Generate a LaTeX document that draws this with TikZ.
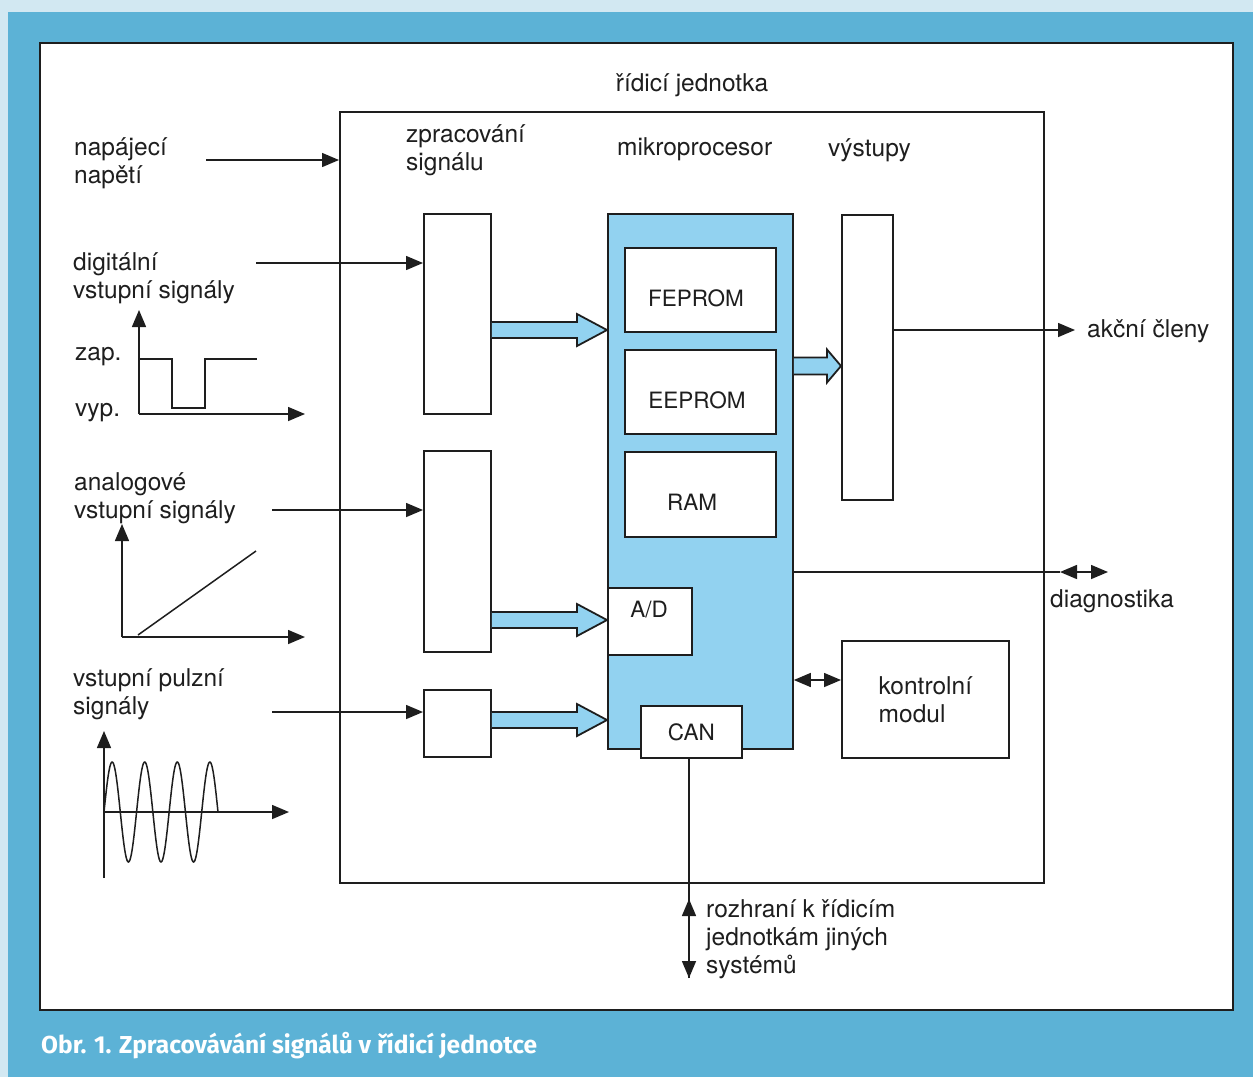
\documentclass[tikz,border=0pt]{standalone}
\usepackage{fontspec}
\setmainfont{TeX Gyre Heros}
\newfontfamily\capfont{Fira Sans}
\usetikzlibrary{arrows.meta,calc}
\definecolor{pale}{RGB}{210,232,242}
\definecolor{frameblue}{RGB}{92,178,214}
\definecolor{chip}{RGB}{146,210,240}
\definecolor{ink}{RGB}{30,30,30}
\newcommand\fatarrow[6]{%
  \draw[fat] let \p1=(#1), \p2=(#2) in
    (\x1,\y1+#3) -- (\x2-#5,\y1+#3) -- (\x2-#5,\y1+#4) -- (\x2,\y1)
    -- (\x2-#5,\y1-#4) -- (\x2-#5,\y1-#3) -- (\x1,\y1-#3);}
\begin{document}
\begin{tikzpicture}[x=1pt,y=-1pt,
  box/.style={draw=ink, line width=1.8pt, fill=white, inner sep=0, anchor=north west},
  lbl/.style={font=\fontsize{24.5}{28}\selectfont, inner sep=0, anchor=base west, align=left, text=ink},
  boxlbl/.style={font=\fontsize{22.5}{26}\selectfont, text=ink, inner sep=0},
  ln/.style={line width=1.5pt, draw=ink},
  tip/.style={-{Triangle[length=17pt,width=14pt]}},
  dtip/.style={{Triangle[length=17pt,width=14pt]}-{Triangle[length=17pt,width=14pt]}},
  fat/.style={draw=ink, line width=1.8pt, fill=chip, line join=miter},
]
\useasboundingbox (0,0) rectangle (1253,1077);
\fill[pale] (0,0) rectangle (1253,1077);
\fill[frameblue] (8,12) rectangle (1253,1077);
\draw[fill=white, line width=1.5pt, draw=ink] (40,43) rectangle (1233,1010);

% control unit
\node[box, minimum width=704, minimum height=771] (ecu) at (339,111) {};
\node[box, minimum width=67, minimum height=200] (sp1) at (423,213) {};
\node[box, minimum width=67, minimum height=201] (sp2) at (423,450) {};
\node[box, minimum width=67, minimum height=67] (sp3) at (423,689) {};
\node[box, fill=chip, minimum width=185, minimum height=535] (mp) at (607,213) {};
\node[box, minimum width=151, minimum height=84] (fep) at (624,247) {};
\node[boxlbl] (fept) at (696,298) {FEPROM};
\node[box, minimum width=151, minimum height=84] (eep) at (624,349) {};
\node[boxlbl] (eept) at (697,400) {EEPROM};
\node[box, minimum width=151, minimum height=85] (ram) at (624,451) {};
\node[boxlbl] (ramt) at (692,502) {RAM};
\node[box, minimum width=84, minimum height=67] (ad) at (607,587) {};
\node[boxlbl] (adt) at (649,610) {A/D};
\node[box, boxlbl, minimum width=101, minimum height=52] (can) at (640,705) {CAN};
\node[box, minimum width=51, minimum height=285] (out) at (841,214) {};
\node[box, lbl, anchor=north west, minimum width=167, minimum height=117] (kon) at (841,640) {kontrolní\\modul};

% headings
\node[lbl, anchor=base] (tecu) at (692,91) {řídicí jednotka};
\node[lbl] (tsp) at (406,170) {zpracování\\signálu};
\node[lbl] (tmp) at (617,155) {mikroprocesor};
\node[lbl] (tout) at (828,156) {výstupy};

% left labels
\node[lbl] (lpwr) at (74,183) {napájecí\\napětí};
\node[lbl] (ldig) at (73,298) {digitální\\vstupní signály};
\node[lbl] (lzap) at (75,360) {zap.};
\node[lbl] (lvyp) at (75,416) {vyp.};
\node[lbl] (lana) at (74,518) {analogové\\vstupní signály};
\node[lbl] (lpul) at (73,714) {vstupní pulzní\\signály};

% right labels
\node[lbl] (lact) at (1087,337) {akční členy};
\node[lbl] (ldia) at (1050,607) {diagnostika};
\node[lbl] (lifc) at (706,973) {rozhraní k řídicím\\jednotkám jiných\\systémů};

% thin input arrows
\coordinate (pwr) at (206,160);
\coordinate (dig) at (256,263);
\coordinate (ana) at (272,510);
\coordinate (pul) at (272,712);
\draw[ln, tip] (pwr) -- (pwr -| ecu.west);
\draw[ln, tip] (dig) -- (dig -| sp1.west);
\draw[ln, tip] (ana) -- (ana -| sp2.west);
\draw[ln, tip] (pul) -- (pul -| sp3.west);

% outputs
\coordinate (act) at (1075,330);
\draw[ln, tip] (out.east |- act) -- (act);
\coordinate (dg) at (1060,572);
\coordinate (dg2) at (1108,572);
\draw[ln] (mp.east |- dg) -- (dg);
\draw[ln, dtip] (dg) -- (dg2);
\coordinate (km) at (0,680);
\draw[ln, dtip] (mp.east |- km) -- (kon.west |- km);
\coordinate (ifc) at (689,978);
\coordinate (ifu) at (689,899);
\draw[ln, tip] (can.south -| ifc) -- (ifc);
\draw[ln, tip] (ifc) -- (ifu);

% fat arrows
\coordinate (f1) at (0,330);
\coordinate (f2) at (0,620);
\coordinate (f3) at (0,720);
\coordinate (f4) at (0,366);
\fatarrow{sp1.east |- f1}{mp.west |- f1}{8pt}{16pt}{30pt}{}
\fatarrow{sp2.east |- f2}{mp.west |- f2}{8pt}{16pt}{30pt}{}
\fatarrow{sp3.east |- f3}{mp.west |- f3}{8pt}{16pt}{30pt}{}
\fatarrow{mp.east |- f4}{out.west |- f4}{8.5pt}{16.5pt}{14pt}{}

% signal sketches
\draw[ln, tip] (139,414) -- (139,310);
\draw[ln, tip] (139,414) -- (305,414);
\draw[ln] (139,359) -- (172,359) -- (172,408) -- (205,408) -- (205,359) -- (257,359);

\draw[ln, tip] (122,637) -- (122,524);
\draw[ln, tip] (122,637) -- (305,637);
\draw[ln] (138,635) -- (256,551);

\draw[ln, tip] (104,878) -- (104,731);
\draw[ln, tip] (104,812) -- (289,812);
\draw[ln] plot[domain=0:1260, samples=160, smooth] ({104+\x/1260*114}, {812-50*sin(\x)});

% caption
\node[anchor=base west, inner sep=0, text=white, font=\capfont\bfseries\fontsize{24.5}{28}\selectfont] (cap) at (41,1053) {Obr. 1. Zpracovávání signálů v řídicí jednotce};
\end{tikzpicture}
\end{document}
